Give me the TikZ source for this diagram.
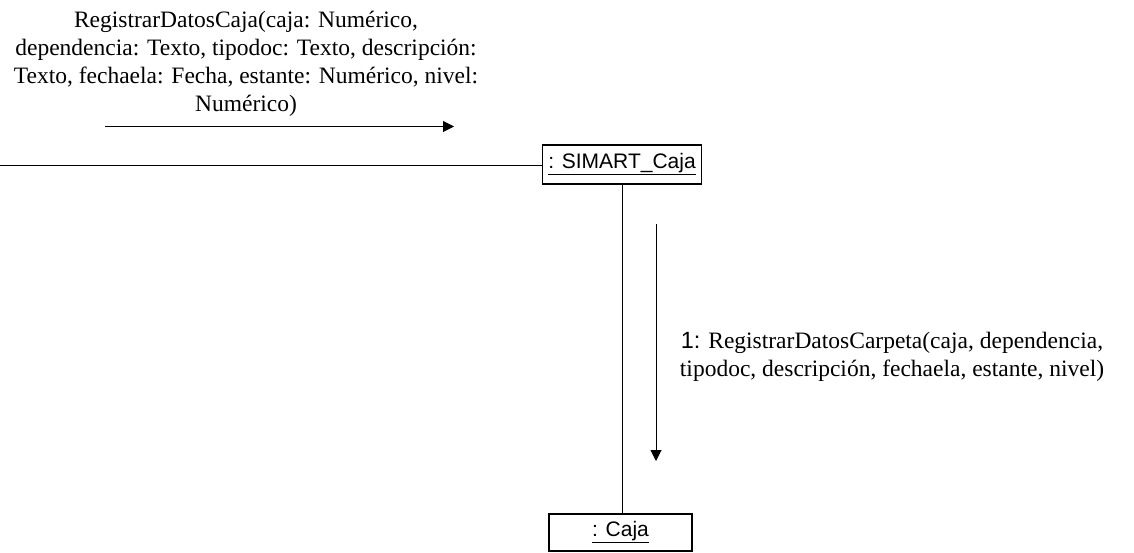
\documentclass[tikz,border=0pt]{standalone}
\usepackage{fontspec}
\setmainfont{Liberation Serif}
\newfontfamily\arialfont{Liberation Sans}
\usetikzlibrary{arrows.meta}
\begin{document}
\begin{tikzpicture}[x=1pt,y=-1pt,
  objbox/.style={draw,line width=1.2pt,inner sep=0pt,font=\arialfont\fontsize{21}{24}\selectfont},
  msgtext/.style={align=center,font=\fontsize{23.5}{28}\selectfont,inner sep=0pt},
  link/.style={line width=0.9pt},
  msg/.style={line width=1pt,-{Triangle[length=11pt,width=11pt]}}]
\useasboundingbox (0,0) rectangle (1134,552);
% objects
\node[objbox,minimum width=159pt,minimum height=39pt] (sim) at (622,164.5) {\underline{: SIMART\_Caja}};
\node[objbox,minimum width=143pt,minimum height=37pt] (caja) at (620.5,532.5) {\underline{: Caja}};
% links
\coordinate (left) at (0,165);
\draw[link] (left) -- (sim.west |- left);
\draw[link] (sim.south -| 622,0) -- (caja.north -| 622,0);
% incoming message
\coordinate (m0a) at (105,126.5);
\coordinate (m0b) at (454,126.5);
\draw[msg] (m0a) -- (m0b);
\node[msgtext] (m0) at (246,64) {RegistrarDatosCaja(caja: Numérico,\\dependencia: Texto, tipodoc: Texto, descripción:\\Texto, fechaela: Fecha, estante: Numérico, nivel:\\Numérico)};
% message 1
\coordinate (m1a) at (656,224);
\coordinate (m1b) at (656,461);
\draw[msg] (m1a) -- (m1b);
\node[msgtext] (m1) at (892,357) {{\arialfont 1:} RegistrarDatosCarpeta(caja, dependencia,\\tipodoc, descripción, fechaela, estante, nivel)};
\end{tikzpicture}
\end{document}
